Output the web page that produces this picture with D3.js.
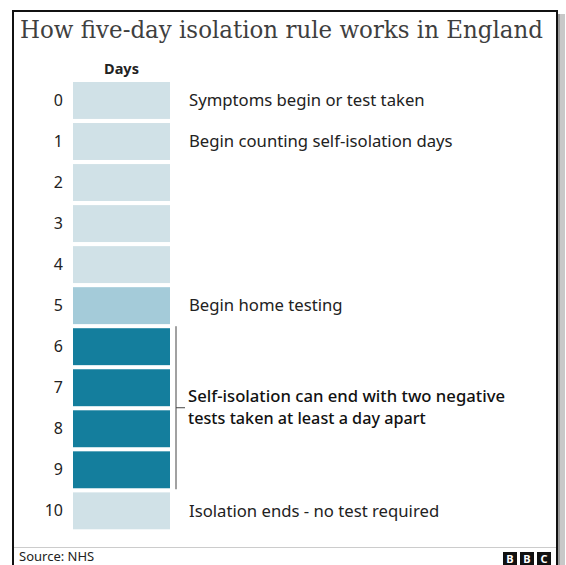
<!DOCTYPE html>
<html><head><meta charset="utf-8">
<script src="https://cdn.jsdelivr.net/npm/d3@7"></script>
<style>body{margin:0;background:#fff}svg{display:block}</style>
</head><body>
<svg id="c" width="566" height="565"></svg>
<script>
const days = [0,1,2,3,4,5,6,7,8,9,10];
const phases = ["wait","wait","wait","wait","wait","test","end","end","end","end","wait"];
const notes = [
  {day:0, text:"Symptoms begin or test taken"},
  {day:1, text:"Begin counting self-isolation days"},
  {day:5, text:"Begin home testing"},
  {day:10, text:"Isolation ends - no test required"}
];
const bracketDays = [6,9];
const bracketLines = ["Self-isolation can end with two negative","tests taken at least a day apart"];
const title = "How five-day isolation rule works in England";
const source = "Source: NHS";

const svg = d3.select("#c");
const sans = "'Noto Sans', 'Open Sans', sans-serif";
const colour = d3.scaleOrdinal().domain(["wait","test","end"]).range(["#d0e1e7","#a4cbd9","#147e9d"]);

// frame + shadow
svg.append("rect").attr("x",557).attr("y",14).attr("width",8).attr("height",551).attr("fill","#c8c8c8");
svg.append("rect").attr("x",557).attr("y",14).attr("width",3).attr("height",551).attr("fill","#9a9a9a");
svg.append("rect").attr("x",13).attr("y",11).attr("width",544).attr("height",560).attr("fill","#fff").attr("stroke","#111").attr("stroke-width",2);

svg.append("text").attr("x",20).attr("y",38).attr("font-family","'DejaVu Serif', serif")
  .attr("font-size",23.5).attr("fill","#3f3f3f")
  .attr("textLength",523).attr("lengthAdjust","spacingAndGlyphs").text(title);

const y = d3.scaleBand().domain(days).range([82,529.3]).paddingInner(0.1).paddingOuter(0);
const x0 = 73, x1 = 170;

svg.append("text").attr("x",(x0+x1)/2).attr("y",74).attr("text-anchor","middle")
  .attr("font-family",sans).attr("font-weight","bold").attr("font-size",14.5).attr("fill","#222").text("Days");

svg.selectAll("rect.day").data(days).join("rect").attr("class","day")
  .attr("x",x0).attr("width",x1-x0).attr("y",d=>y(d)).attr("height",y.bandwidth())
  .attr("fill",(d,i)=>colour(phases[i]));

svg.selectAll("text.num").data(days).join("text").attr("class","num")
  .attr("x",63).attr("y",d=>y(d)+y.bandwidth()/2).attr("dy","0.35em").attr("text-anchor","end")
  .attr("font-family",sans).attr("font-size",16).attr("fill","#222").text(d=>d);

svg.selectAll("text.note").data(notes).join("text").attr("class","note")
  .attr("x",189).attr("y",d=>y(d.day)+y.bandwidth()/2).attr("dy","0.35em")
  .attr("font-family",sans).attr("font-size",16.7).attr("fill","#222").text(d=>d.text);

const by0 = y(bracketDays[0]) - 2, by1 = y(bracketDays[1]) + y.bandwidth() + 1;
const bm = (by0+by1)/2;
svg.append("line").attr("x1",176).attr("x2",176).attr("y1",by0).attr("y2",by1).attr("stroke","#444").attr("stroke-width",1);
svg.append("line").attr("x1",176).attr("x2",185).attr("y1",bm).attr("y2",bm).attr("stroke","#444").attr("stroke-width",1);
svg.selectAll("text.br").data(bracketLines).join("text").attr("class","br")
  .attr("x",188).attr("y",(d,i)=>bm-11+i*22).attr("dy","0.35em")
  .attr("font-family",sans).attr("font-weight",500).attr("font-size",16.2)
  .attr("textLength",(d,i)=>i===0?317:null).attr("lengthAdjust","spacingAndGlyphs")
  .attr("fill","#111").text(d=>d);

svg.append("line").attr("x1",14).attr("x2",556).attr("y1",547.5).attr("y2",547.5).attr("stroke","#ccc");
svg.append("text").attr("x",19).attr("y",561).attr("font-family",sans).attr("font-size",13).attr("fill","#222").text(source);
["B","B","C"].forEach((l,i)=>{
  svg.append("rect").attr("x",503+i*17).attr("y",552).attr("width",14).attr("height",14).attr("fill","#111");
  svg.append("text").attr("x",510+i*17).attr("y",563).attr("text-anchor","middle").attr("font-family",sans)
    .attr("font-weight","bold").attr("font-size",11).attr("fill","#fff").text(l);
});
</script>
</body></html>
